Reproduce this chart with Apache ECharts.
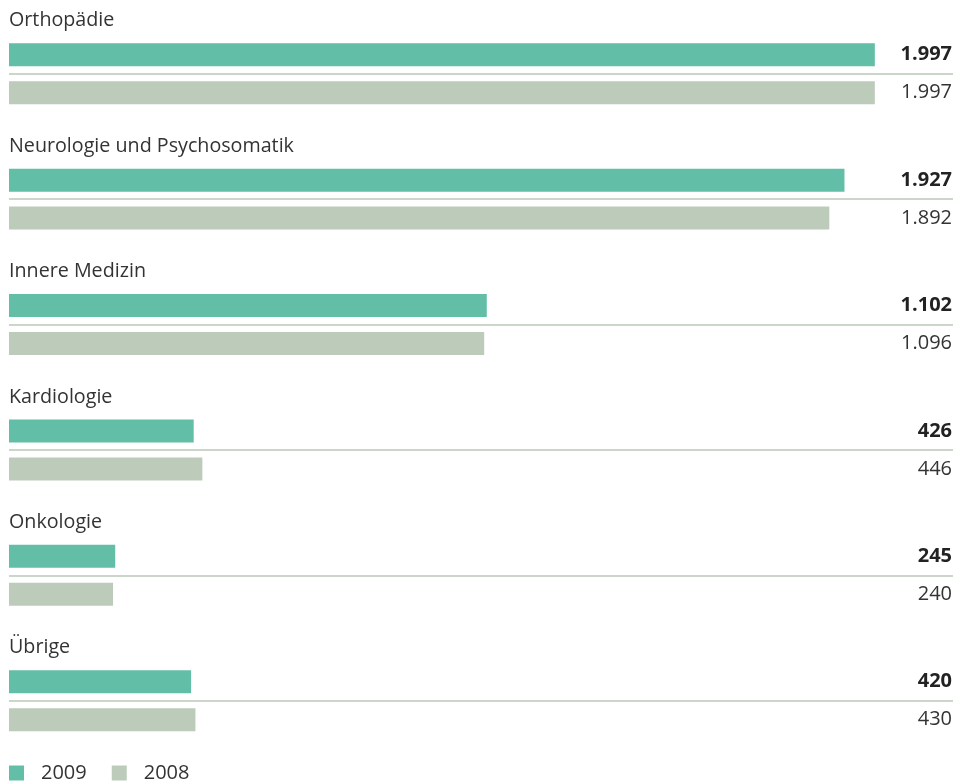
<!DOCTYPE html>
<html><head><meta charset="utf-8">
<script src="https://cdn.jsdelivr.net/npm/echarts@6/dist/echarts.min.js"></script>
<style>html,body{margin:0;padding:0;background:#fff}#c{width:957px;height:781px}</style>
</head><body><div id="c"></div>
<script>
const categories = ['Orthopädie', 'Neurologie und Psychosomatik', 'Innere Medizin', 'Kardiologie', 'Onkologie', 'Übrige'];
const values2009 = [1997, 1927, 1102, 426, 245, 420];
const values2008 = [1997, 1892, 1096, 446, 240, 430];
const seriesNames = ['2009', '2008'];
const AXIS_MAX = 2175;

const fmt = v => v.toLocaleString('de-DE');
const FONT = 'Open Sans';
const C09 = '#62bea7', C08 = '#bccbba';
const GRID_TOP = 11, BAND_H = 752.4, N = categories.length;

const chart = echarts.init(document.getElementById('c'));
chart.setOption({
  animation: false,
  textStyle: { fontFamily: FONT },
  grid: [
    { left: 9, right: 5, top: GRID_TOP, height: BAND_H },
    { left: 9, right: 4, top: GRID_TOP + BAND_H / N / 2, height: BAND_H / N * (N - 1) }
  ],
  xAxis: [
    { type: 'value', min: 0, max: AXIS_MAX, show: false, gridIndex: 0 },
    { type: 'value', min: 0, max: AXIS_MAX, show: false, gridIndex: 1 }
  ],
  yAxis: [
    {
      type: 'category', inverse: true, data: categories, gridIndex: 0,
      axisLine: { show: false }, axisTick: { show: false }, splitLine: { show: false },
      axisLabel: {
        inside: true, margin: 0, interval: 0, showMinLabel: true, showMaxLabel: true, hideOverlap: false,
        color: '#333', fontFamily: FONT, verticalAlign: 'middle',
        formatter: v => '{t|' + v + '}\n{s|}',
        rich: { t: { fontSize: 19.7, lineHeight: 25, color: '#333', fontFamily: FONT }, s: { height: 106, lineHeight: 106 } }
      }
    },
    {
      type: 'value', inverse: true, min: 0, max: N - 1, interval: 1, gridIndex: 1,
      axisLine: { show: false }, axisTick: { show: false }, axisLabel: { show: false },
      splitLine: { show: true, lineStyle: { color: '#cbd5ca', width: 2 } }
    }
  ],
  legend: {
    data: seriesNames, left: 4, top: 758, icon: 'rect', itemWidth: 15, itemHeight: 15,
    itemGap: 25, textStyle: { fontSize: 20, color: '#333', fontFamily: FONT, padding: [0, 0, 0, 12] }
  },
  series: [
    { name: '2009', type: 'bar', stack: 'a', data: values2009, barWidth: 23, barGap: '65%',
      itemStyle: { color: C09 }, silent: true },
    { name: 'f09', type: 'bar', stack: 'a', data: values2009.map(v => AXIS_MAX - v), barWidth: 23,
      itemStyle: { color: 'rgba(0,0,0,0)' }, silent: true,
      label: { show: true, position: 'insideRight', distance: 0, fontSize: 20, fontWeight: 'bold',
        color: '#222', fontFamily: FONT, formatter: p => fmt(values2009[p.dataIndex]) } },
    { name: '2008', type: 'bar', stack: 'b', data: values2008, barWidth: 23, barGap: '65%',
      itemStyle: { color: C08 }, silent: true },
    { name: 'f08', type: 'bar', stack: 'b', data: values2008.map(v => AXIS_MAX - v), barWidth: 23,
      itemStyle: { color: 'rgba(0,0,0,0)' }, silent: true,
      label: { show: true, position: 'insideRight', distance: 0, fontSize: 20,
        color: '#333', fontFamily: FONT, formatter: p => fmt(values2008[p.dataIndex]) } }
  ]
});
</script></body></html>
